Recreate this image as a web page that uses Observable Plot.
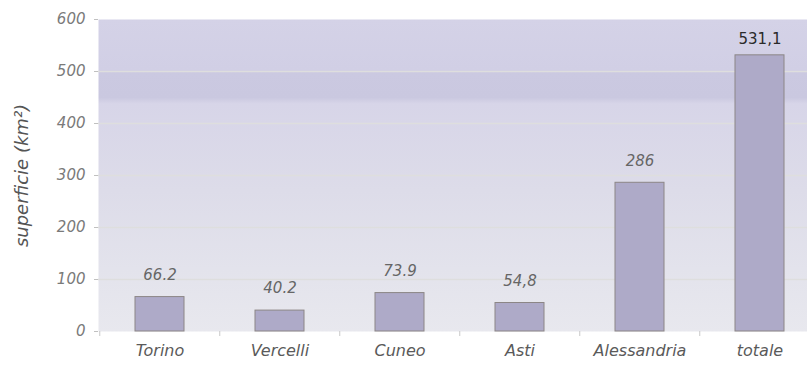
<!DOCTYPE html>
<html>
<head>
<meta charset="utf-8">
<script src="https://cdn.jsdelivr.net/npm/d3@7"></script>
<script src="https://cdn.jsdelivr.net/npm/@observablehq/plot@0.6"></script>
<style>
  html, body { margin: 0; padding: 0; background: #fff; overflow: hidden; }
  #chart svg { display: block; max-width: none; }
</style>
</head>
<body>
<div id="chart"></div>
<script>
// Superficie per provincia (km²)
const categories = ["Torino", "Vercelli", "Cuneo", "Asti", "Alessandria", "totale"];
const values = [66.2, 40.2, 73.9, 54.8, 286, 531.1];
const valueLabels = ["66.2", "40.2", "73.9", "54,8", "286", "531,1"];
const yTicks = [0, 100, 200, 300, 400, 500, 600];

const data = categories.map((c, i) => ({ name: c, value: values[i], label: valueLabels[i], total: c === "totale" }));

const width = 821, height = 366;
const marginLeft = 98, marginRight = 0, marginTop = 19, marginBottom = 35;
const step = (width - marginLeft - marginRight) / categories.length;
const font = "'DejaVu Sans', Verdana, sans-serif";

const chart = Plot.plot({
  width, height, marginLeft, marginRight, marginTop, marginBottom,
  style: { fontFamily: font, background: "transparent" },
  x: { domain: categories, paddingInner: 0.59, paddingOuter: 0.295, label: null },
  y: { domain: [0, 600], label: null },
  marks: [
    Plot.frame({ fill: "url(#plotBg)", stroke: "none" }),
    Plot.gridY(yTicks.filter(t => t > 0 && t < 600), { stroke: "#dedede", strokeOpacity: 1, strokeWidth: 1.6 }),
    Plot.axisY(yTicks, {
      tickSize: 4, tickPadding: 9, stroke: "#c0c0c0", fill: "#7a7a7a",
      fontSize: 15, fontStyle: "italic", label: null
    }),
    Plot.axisX({ tickSize: 0, tickPadding: 13, fill: "#5a5a5a", fontSize: 16, fontStyle: "italic", label: null }),
    Plot.axisX({ tickSize: 5, stroke: "#c8c8c8", tickFormat: () => "", dx: -step / 2, label: null }),
    Plot.barY(data, { x: "name", y: "value", fill: "#aeaac8", stroke: "#8c8686", strokeWidth: 1 }),
    Plot.text(data.filter(d => !d.total), {
      x: "name", y: "value", text: "label", dy: -22, fill: "#666",
      fontSize: 15, fontStyle: "italic"
    }),
    Plot.text(data.filter(d => d.total), {
      x: "name", y: "value", text: "label", dy: -16, fill: "#2a2a2a",
      fontSize: 15
    }),
    Plot.text(["superficie (km²)"], {
      frameAnchor: "left", textAnchor: "middle", dx: -76, rotate: -90, fontSize: 18,
      fontStyle: "italic", fill: "#555"
    })
  ]
});

// Lavender background gradient of the plot area
const svg = d3.select(chart);
const defs = svg.insert("defs", ":first-child");
const grad = defs.append("linearGradient")
  .attr("id", "plotBg").attr("x1", 0).attr("y1", 0).attr("x2", 0).attr("y2", 1);
[
  [0, "#d4d2e7"], [0.16, "#d1cfe5"], [0.17, "#cbc9e1"], [0.25, "#cac8e0"],
  [0.27, "#d7d5e8"], [0.55, "#dddce9"], [0.8, "#e3e3ec"], [1, "#e8e8ee"]
].forEach(([o, c]) => grad.append("stop").attr("offset", o).attr("stop-color", c));

document.getElementById("chart").appendChild(chart);
</script>
</body>
</html>
